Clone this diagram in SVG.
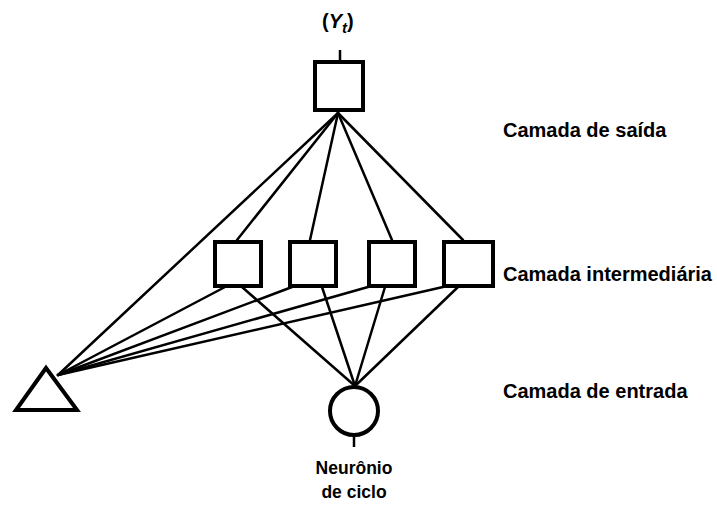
<svg xmlns="http://www.w3.org/2000/svg" width="717" height="508" viewBox="0 0 717 508">
<style>
.n{fill:#fff;stroke:#000;stroke-width:4;stroke-linejoin:miter}
.c line{stroke:#000;stroke-width:2.5;stroke-linecap:round}
.stem{stroke:#000;stroke-width:2.5}
.t{font-family:"Liberation Sans",Arial,sans-serif;font-weight:bold;fill:#000}
.lbl{font-size:20px}
</style>
<rect width="717" height="508" fill="#fff"/>
<g id="connectors" class="c">
<line x1="338" y1="113" x2="58" y2="375"/>
<line x1="338" y1="113" x2="237" y2="240"/>
<line x1="338" y1="113" x2="310" y2="240"/>
<line x1="338" y1="113" x2="392" y2="240"/>
<line x1="338" y1="113" x2="463" y2="240"/>
<line x1="225" y1="287" x2="58" y2="375"/>
<line x1="292" y1="287" x2="58" y2="375"/>
<line x1="368" y1="287" x2="58" y2="375"/>
<line x1="443" y1="287" x2="58" y2="375"/>
<line x1="242" y1="287" x2="355" y2="386"/>
<line x1="322" y1="287" x2="355" y2="386"/>
<line x1="385" y1="287" x2="355" y2="386"/>
<line x1="458" y1="287" x2="355" y2="386"/>
</g>
<g id="output">
<line class="stem" x1="340" y1="50" x2="340" y2="62"/>
<rect class="n" x="315" y="62" width="48" height="48"/>
<text class="t" x="322" y="28" font-size="20">(<tspan font-style="italic">Y</tspan><tspan font-style="italic" font-size="15" dy="5">t</tspan><tspan dy="-5">)</tspan></text>
</g>
<g id="hidden1"><rect class="n" x="215" y="242" width="46" height="44"/></g>
<g id="hidden2"><rect class="n" x="290" y="242" width="46" height="44"/></g>
<g id="hidden3"><rect class="n" x="369" y="242" width="46" height="44"/></g>
<g id="hidden4"><rect class="n" x="444" y="242" width="49" height="44"/></g>
<g id="input-triangle"><polygon class="n" points="46,368 16,410 77,410"/></g>
<g id="cycle-neuron">
<circle class="n" cx="354" cy="411" r="24" stroke-width="3.5"/>
<line class="stem" x1="354" y1="435" x2="354" y2="447"/>
<text class="t" x="354" y="474" font-size="17.5" text-anchor="middle">Neurônio</text>
<text class="t" x="354" y="498" font-size="17.5" text-anchor="middle">de ciclo</text>
</g>
<g id="labels">
<text class="t lbl" x="503" y="137">Camada de saída</text>
<text class="t lbl" x="503" y="281">Camada intermediária</text>
<text class="t lbl" x="503" y="398">Camada de entrada</text>
</g>
</svg>
